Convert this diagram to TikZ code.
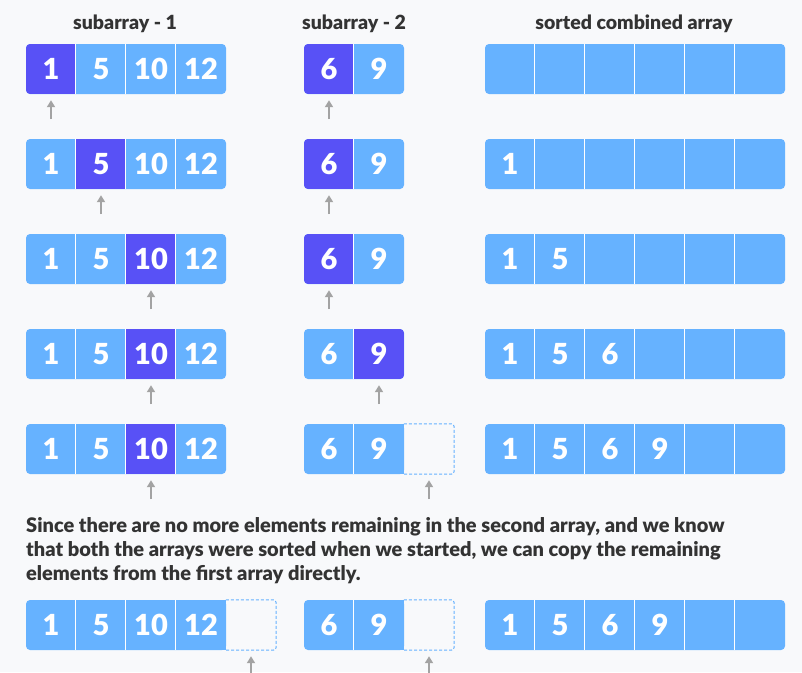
\documentclass[tikz,border=0pt]{standalone}
\usepackage{fontspec}
\setmainfont{Lato}
\newfontfamily\latoblack{Lato Black}
\usetikzlibrary{arrows.meta}
\definecolor{bg}{HTML}{F8F9FB}
\definecolor{lb}{HTML}{66B2FF}
\definecolor{db}{HTML}{5851F6}
\definecolor{txt}{HTML}{333333}
\definecolor{arrg}{HTML}{A3A3A3}
\tikzset{
  cell/.style={minimum width=50pt, minimum height=50pt, inner sep=0pt, text=white, font=\fontsize{29}{29}\latoblack},
  sep/.style={white, line width=1pt},
  ptr/.style={arrg, line width=2pt, -{Triangle[length=7pt,width=8pt]}},
  title/.style={text=txt, font=\fontsize{19.5}{20}\latoblack},
  dcell/.style={lb, line width=1pt, dash pattern=on 3pt off 2pt},
}
% name, x, y, n, highlight, contents
\newcommand\drawarr[6]{%
  \fill[lb, rounded corners=4pt] (#2,#3) rectangle ++(#4*50,50);
  \ifnum#5>0
    \begin{scope}
      \clip[rounded corners=4pt] (#2,#3) rectangle ++(#4*50,50);
      \fill[db] (#2+#5*50-50,#3) rectangle ++(50,50);
    \end{scope}
  \fi
  \foreach \v [count=\i] in {#6} {
    \node[cell] (#1-\i) at (#2+\i*50-25,#3+25) {\v};
  }
  \foreach \i in {2,...,#4} {
    \draw[sep] (#1-\i.north west) -- (#1-\i.south west);
  }
}
% name, x (left of dashed cell), y
\newcommand\dashedcell[3]{%
  \fill[lb] (#2-5,#3) rectangle (#2,#3+50);
  \node[minimum width=50pt, minimum height=50pt, inner sep=0pt] (#1) at (#2+25,#3+25) {};
  \draw[dcell, rounded corners=3pt] (#1.north west) -- (#1.north east) -- (#1.south east) -- (#1.south west);
}
\begin{document}
\begin{tikzpicture}[x=1pt,y=-1pt]
\useasboundingbox (0,0) rectangle (802,672);
\fill[bg] (0,0) rectangle (802,672);
\clip (0,0) rectangle (802,672);

\node[title] (t1) at (125,23.5) {subarray - 1};
\node[title] (t2) at (354,23.5) {subarray - 2};
\node[title] (t3) at (634,23.5) {sorted combined array};

% row 1
\drawarr{a1}{26}{44}{4}{1}{1,5,10,12}
\drawarr{b1}{304}{44}{2}{1}{6,9}
\drawarr{c1}{485}{44}{6}{0}{{},{},{},{},{},{}}
\draw[ptr] ([yshift=-25pt]a1-1.south) -- ([yshift=-6pt]a1-1.south);
\draw[ptr] ([yshift=-25pt]b1-1.south) -- ([yshift=-6pt]b1-1.south);

% row 2
\drawarr{a2}{26}{139}{4}{2}{1,5,10,12}
\drawarr{b2}{304}{139}{2}{1}{6,9}
\drawarr{c2}{485}{139}{6}{0}{1,{},{},{},{},{}}
\draw[ptr] ([yshift=-25pt]a2-2.south) -- ([yshift=-6pt]a2-2.south);
\draw[ptr] ([yshift=-25pt]b2-1.south) -- ([yshift=-6pt]b2-1.south);

% row 3
\drawarr{a3}{26}{234}{4}{3}{1,5,10,12}
\drawarr{b3}{304}{234}{2}{1}{6,9}
\drawarr{c3}{485}{234}{6}{0}{1,5,{},{},{},{}}
\draw[ptr] ([yshift=-25pt]a3-3.south) -- ([yshift=-6pt]a3-3.south);
\draw[ptr] ([yshift=-25pt]b3-1.south) -- ([yshift=-6pt]b3-1.south);

% row 4
\drawarr{a4}{26}{329}{4}{3}{1,5,10,12}
\drawarr{b4}{304}{329}{2}{2}{6,9}
\drawarr{c4}{485}{329}{6}{0}{1,5,6,{},{},{}}
\draw[ptr] ([yshift=-25pt]a4-3.south) -- ([yshift=-6pt]a4-3.south);
\draw[ptr] ([yshift=-25pt]b4-2.south) -- ([yshift=-6pt]b4-2.south);

% row 5
\drawarr{a5}{26}{424}{4}{3}{1,5,10,12}
\drawarr{b5}{304}{424}{2}{0}{6,9}
\dashedcell{b5-3}{404}{424}
\drawarr{c5}{485}{424}{6}{0}{1,5,6,9,{},{}}
\draw[ptr] ([yshift=-25pt]a5-3.south) -- ([yshift=-6pt]a5-3.south);
\draw[ptr] ([yshift=-25pt]b5-3.south) -- ([yshift=-6pt]b5-3.south);

% explanation
\node[text=txt, font=\fontsize{20}{24}\latoblack, align=left, anchor=north west, inner sep=0pt] (expl) at (26,517)
  {Since there are no more elements remaining in the second array, and we know\\
   that both the arrays were sorted when we started, we can copy the remaining\\
   elements from the first array directly.};

% final row
\drawarr{a6}{26}{600}{4}{0}{1,5,10,12}
\dashedcell{a6-5}{226}{600}
\drawarr{b6}{304}{600}{2}{0}{6,9}
\dashedcell{b6-3}{404}{600}
\drawarr{c6}{485}{600}{6}{0}{1,5,6,9,{},{}}
\draw[ptr] ([yshift=-25pt]a6-5.south) -- ([yshift=-6pt]a6-5.south);
\draw[ptr] ([yshift=-25pt]b6-3.south) -- ([yshift=-6pt]b6-3.south);
\end{tikzpicture}
\end{document}
